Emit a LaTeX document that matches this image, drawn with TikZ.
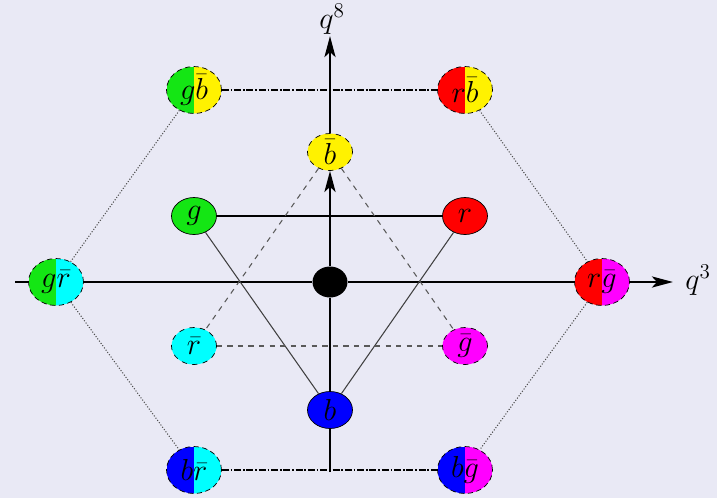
\documentclass[tikz,border=0pt]{standalone}
\usetikzlibrary{shapes.geometric,arrows.meta}
\definecolor{bgcol}{RGB}{233,233,245}
\definecolor{qgreen}{RGB}{20,230,20}
\definecolor{qcyan}{RGB}{0,255,255}
\definecolor{qmagenta}{RGB}{255,0,255}
\begin{document}
\begin{tikzpicture}[x=0.02cm,y=-0.02cm, every node/.style={font=\LARGE},
  quark/.style={ellipse,draw,fill=#1,inner sep=0pt,minimum width=0.9cm,minimum height=0.74cm},
  antiquark/.style={quark=#1,dashed},
  meson/.style 2 args={ellipse,draw,densely dashed,inner sep=0pt,minimum width=1.1cm,minimum height=0.94cm,
    path picture={\fill[#1] (path picture bounding box.south west) rectangle (path picture bounding box.north);
                  \fill[#2] (path picture bounding box.south) rectangle (path picture bounding box.north east);}},
  axis/.style={line width=1.6pt},
  tip/.style={-{Stealth[length=0.42cm,width=0.22cm,inset=0.1cm]}}]
\fill[bgcol] (0,0) rectangle (717,498);
\useasboundingbox (0,0) rectangle (717,498);
% quarks and antiquarks
\node[quark=qgreen] (g) at (194,216) {$g$};
\node[quark=red] (r) at (465,216) {$r$};
\node[quark=blue] (b) at (330,410) {$b$};
\node[antiquark=yellow] (bb) at (330,152) {$\bar b$};
\node[antiquark=qcyan] (rb) at (194,346) {$\bar r$};
\node[antiquark=qmagenta] (gb) at (465,346) {$\bar g$};
\node[ellipse,fill=black,minimum width=0.7cm,minimum height=0.62cm] (ctr) at (330,282) {};
% mesons
\node[meson={qgreen}{yellow}] (gbb) at (194,90) {$g\bar b$};
\node[meson={red}{yellow}] (rbb) at (465,90) {$r\bar b$};
\node[meson={qgreen}{qcyan}] (grb) at (56,282) {$g\bar r$};
\node[meson={red}{qmagenta}] (rgb) at (602,282) {$r\bar g$};
\node[meson={blue}{qcyan}] (brb) at (194,470) {$b\bar r$};
\node[meson={blue}{qmagenta}] (bgb) at (465,470) {$b\bar g$};
% axes
\coordinate (axL) at (15,282);
\coordinate (axR) at (673,282);
\coordinate (axB) at (330,472);
\coordinate (axT) at (330,36);
\draw[axis] (axL) -- (grb);
\draw[axis] (grb) -- (ctr);
\draw[axis] (ctr) -- (rgb);
\draw[axis,tip] (rgb) -- (axR);
\draw[axis] (axB) -- (b);
\draw[axis] (b) -- (ctr);
\draw[axis,tip] (ctr) -- (bb);
\draw[axis,tip] (bb) -- (axT);
\node (q3) at (698,280) {$q^3$};
\node (q8) at (332,19) {$q^8$};
% triangles
\draw[line width=1.3pt] (g) -- (r);
\draw[black!75,line width=0.6pt] (g) -- (b);
\draw[black!75,line width=0.6pt] (r) -- (b);
\draw[black!65,dashed,line width=0.6pt] (bb) -- (rb);
\draw[black!65,dashed,line width=0.6pt] (bb) -- (gb);
\draw[black!65,dashed,line width=0.6pt] (rb) -- (gb);
% hexagon
\draw[line width=1.3pt,dash pattern=on 4pt off 1pt on 1pt off 1pt] (gbb) -- (rbb);
\draw[line width=1.3pt,dash pattern=on 4pt off 1pt on 1pt off 1pt] (brb) -- (bgb);
\draw[black!70,densely dotted,line width=0.6pt] (gbb) -- (grb);
\draw[black!70,densely dotted,line width=0.6pt] (grb) -- (brb);
\draw[black!70,densely dotted,line width=0.6pt] (rbb) -- (rgb);
\draw[black!70,densely dotted,line width=0.6pt] (rgb) -- (bgb);
\end{tikzpicture}
\end{document}
